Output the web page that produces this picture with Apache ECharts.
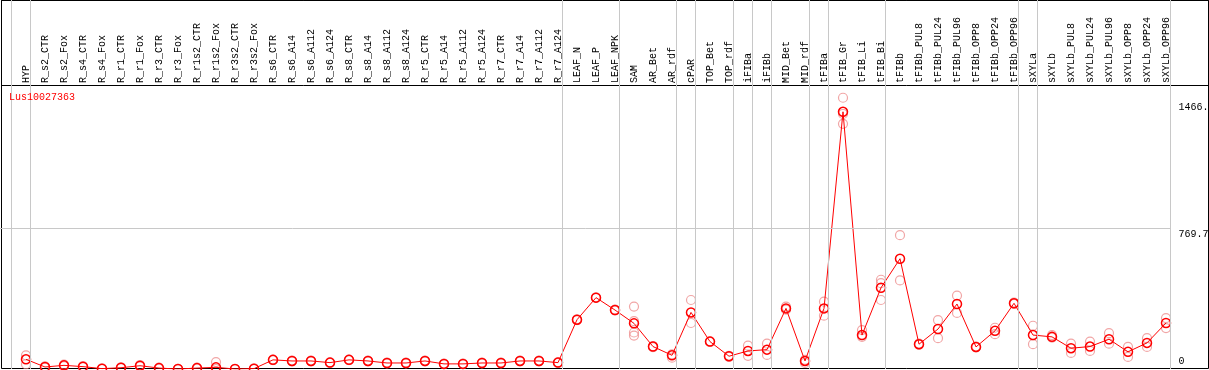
<!DOCTYPE html>
<html>
<head>
<meta charset="utf-8">
<script src="https://cdn.jsdelivr.net/npm/echarts@6/dist/echarts.min.js"></script>
<style>
html,body{margin:0;padding:0;background:#fff;}
#chart{width:1209px;height:370px;}
</style>
</head>
<body>
<div id="chart"></div>
<script>
const seriesName = 'Lus10027363';
const categories = ['HYP','R_s2_CTR','R_s2_Fox','R_s4_CTR','R_s4_Fox','R_r1_CTR','R_r1_Fox','R_r3_CTR','R_r3_Fox','R_r1s2_CTR','R_r1s2_Fox','R_r3s2_CTR','R_r3s2_Fox','R_s6_CTR','R_s6_A14','R_s6_A112','R_s6_A124','R_s8_CTR','R_s8_A14','R_s8_A112','R_s8_A124','R_r5_CTR','R_r5_A14','R_r5_A112','R_r5_A124','R_r7_CTR','R_r7_A14','R_r7_A112','R_r7_A124','LEAF_N','LEAF_P','LEAF_NPK','SAM','AR_Bet','AR_rdf','cPAR','TOP_Bet','TOP_rdf','iFIBa','iFIBb','MID_Bet','MID_rdf','tFIBa','tFIB_Gr','tFIB_Li','tFIB_Bi','tFIBb','tFIBb_PUL8','tFIBb_PUL24','tFIBb_PUL96','tFIBb_OPP8','tFIBb_OPP24','tFIBb_OPP96','sXYLa','sXYLb','sXYLb_PUL8','sXYLb_PUL24','sXYLb_PUL96','sXYLb_OPP8','sXYLb_OPP24','sXYLb_OPP96'];
const means = [53,11,20,13,2,7,18,5,0,5,9,0,2,50,44,44,35,50,44,33,33,44,28,28,33,33,44,44,35,270,391,323,250,123,75,310,150,70,99,106,332,44,332,1409,186,445,604,136,219,356,121,209,360,186,176,114,123,163,94,143,252];
const replicates = [[75,26],[15,8],[24,16],[16,10],[4,0],[9,5],[22,14],[7,3],[1,0],[7,3],[38,0],[0,0],[4,0],[52,48],[46,42],[46,42],[37,33],[52,48],[46,42],[35,31],[35,31],[46,42],[30,26],[30,26],[35,31],[35,31],[46,42],[46,42],[37,33],[272,268],[393,389],[325,321],[342,262,200,183],[125,120],[80,62],[378,252],[152,148],[72,66],[128,72],[139,77],[342,325],[50,33],[369,292],[1486,1397,1343],[213,176],[489,470,378],[733,485],[133,139],[268,169],[402,307],[123,119],[226,191],[364,356],[237,136],[186,172],[139,88],[150,99],[196,139],[121,66],[169,121],[279,224]];
const groupEnds = [-1,0,28,31,34,35,37,38,39,41,42,45,52,53,60];
const yTickValues = [0, 769.7, 1466];
const yTickLabels = ['0', '769.7', '1466.'];
const yMax = 1539.4;

const W = 1209, H = 370;
const step = 19, firstX = 26;          // layout: pixel spacing of categories
const sepOffset = 4.5 / step;
const mono = 'Liberation Mono';

const repData = [];
replicates.forEach((arr, i) => arr.forEach(v => repData.push([categories[i], v])));

const chart = echarts.init(document.getElementById('chart'), null, {renderer: 'canvas'});
const hidden = {show: false};
chart.setOption({
  animation: false,
  backgroundColor: '#fff',
  title: {text: seriesName, left: 9, top: 92, padding: 0,
    textStyle: {color: '#ff0000', fontSize: 10, fontFamily: mono, fontWeight: 'normal'}},
  grid: [
    {left: 1.5, right: 0.5, top: 0.5, bottom: 1.5, show: true, borderColor: '#000', borderWidth: 1},
    {left: 1.5, right: 0.5, top: 0.5, height: 85, show: true, borderColor: '#000', borderWidth: 1},
    {left: 0, right: 0, top: 0, bottom: 1},
    {left: firstX - step / 2, right: W - (firstX - step / 2) - step * categories.length, top: 88, bottom: 1},
    {left: 0, right: W - (firstX + step * 60 + 4.5), top: 88, bottom: 1}
  ],
  xAxis: [
    {gridIndex: 0, type: 'value', show: false, min: 0, max: 1},
    {gridIndex: 1, type: 'value', show: false, min: 0, max: 1},
    {gridIndex: 2, type: 'value', show: false, min: -firstX / step, max: (W - firstX) / step},
    {gridIndex: 3, type: 'category', data: categories, position: 'top', boundaryGap: true,
      axisLine: hidden, axisTick: hidden, splitLine: hidden,
      axisLabel: {interval: 0, rotate: 90, margin: 5, color: '#000', fontSize: 10, fontFamily: mono,
        padding: [0, 0, 3, 0]}},
    {gridIndex: 4, type: 'value', show: false, min: 0, max: 1}
  ],
  yAxis: [
    {gridIndex: 0, type: 'value', show: false, min: 0, max: 1},
    {gridIndex: 1, type: 'value', show: false, min: 0, max: 1},
    {gridIndex: 2, type: 'value', show: false, min: 0, max: 1},
    {gridIndex: 3, type: 'value', show: false, min: 0, max: yMax},
    {gridIndex: 4, type: 'value', show: false, min: 0, max: yMax}
  ],
  series: [
    {type: 'line', xAxisIndex: 2, yAxisIndex: 2, data: [], silent: true,
      markLine: {silent: true, symbol: 'none', label: {show: false},
        lineStyle: {color: '#c8c8c8', width: 1, type: 'solid'},
        data: groupEnds.map(g => ({xAxis: g + sepOffset}))}},
    {type: 'line', xAxisIndex: 4, yAxisIndex: 4, data: [], silent: true,
      markLine: {silent: true, symbol: 'none',
        data: yTickValues.map((v, i) => ({
          yAxis: v,
          lineStyle: {color: i === 1 ? '#c8c8c8' : 'rgba(0,0,0,0)', width: 1, type: 'solid'},
          label: {show: true, position: 'end', distance: 8, formatter: yTickLabels[i],
            color: '#000', fontSize: 10, fontFamily: mono,
            verticalAlign: i === 0 ? 'bottom' : 'top', align: 'left', padding: i === 0 ? [0,0,3,0] : [1,0,0,0]}
        }))}},
    {name: seriesName + ' replicates', type: 'scatter', xAxisIndex: 3, yAxisIndex: 3, data: repData,
      symbol: 'circle', symbolSize: 9, z: 2,
      itemStyle: {color: 'rgba(0,0,0,0)', borderColor: '#ee9090', borderWidth: 1.2}},
    {name: seriesName, type: 'line', xAxisIndex: 3, yAxisIndex: 3, data: means,
      symbol: 'circle', symbolSize: 9, z: 3, showAllSymbol: true,
      lineStyle: {color: '#ff0000', width: 1},
      itemStyle: {color: 'rgba(0,0,0,0)', borderColor: '#ff0000', borderWidth: 1.5}}
  ]
});
</script>
</body>
</html>
